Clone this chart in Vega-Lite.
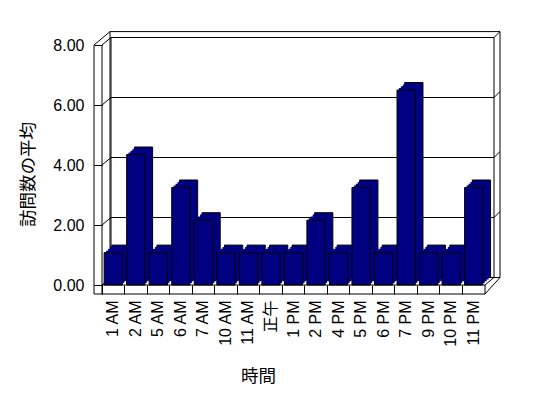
{
  "$schema": "https://vega.github.io/schema/vega-lite/v6.json",
  "width": 383,
  "height": 240,
  "autosize": "none",
  "padding": {"left": 102, "top": 45, "right": 63, "bottom": 113},
  "background": "white",
  "config": {
    "view": {"stroke": null},
    "rule": {"stroke": "black", "strokeWidth": 1},
    "axis": {
      "labelFont": "Liberation Sans, Noto Sans CJK JP",
      "labelFontSize": 16,
      "labelColor": "black",
      "domainColor": "black",
      "tickColor": "black",
      "titleFont": "Noto Sans CJK JP",
      "titleFontSize": 17.5,
      "titleFontWeight": "normal",
      "titleColor": "black",
      "grid": false
    }
  },
  "datasets": {
    "visits": [
      {"hour": "1 AM", "value": 1.08},
      {"hour": "2 AM", "value": 4.35},
      {"hour": "5 AM", "value": 1.08},
      {"hour": "6 AM", "value": 3.25},
      {"hour": "7 AM", "value": 2.16},
      {"hour": "10 AM", "value": 1.08},
      {"hour": "11 AM", "value": 1.08},
      {"hour": "正午", "value": 1.08},
      {"hour": "1 PM", "value": 1.08},
      {"hour": "2 PM", "value": 2.16},
      {"hour": "4 PM", "value": 1.08},
      {"hour": "5 PM", "value": 3.25},
      {"hour": "6 PM", "value": 1.08},
      {"hour": "7 PM", "value": 6.5},
      {"hour": "9 PM", "value": 1.08},
      {"hour": "10 PM", "value": 1.08},
      {"hour": "11 PM", "value": 3.25}
    ],
    "grid": [{"v": 2}, {"v": 4}, {"v": 6}],
    "levels": [{"v": 0}, {"v": 2}, {"v": 4}, {"v": 6}, {"v": 8}],
    "wall": [{"top": 8, "bottom": 0, "left": 0, "right": 1}]
  },
  "layer": [
    {
      "data": {"name": "wall"},
      "mark": {"type": "rect", "fill": "white", "stroke": "black", "strokeWidth": 1, "xOffset": 8, "x2Offset": 15, "yOffset": -13.4, "y2Offset": -7.5},
      "encoding": {
        "x": {"field": "left", "type": "quantitative", "scale": {"domain": [0, 1], "nice": false, "zero": false}, "axis": null},
        "x2": {"field": "right"},
        "y": {"field": "top", "type": "quantitative", "scale": {"domain": [0, 8], "nice": false}, "axis": null},
        "y2": {"field": "bottom"}
      }
    },
    {
      "data": {"name": "wall"},
      "mark": {"type": "rect", "fill": "white", "stroke": "black", "strokeWidth": 1, "xOffset": 9, "x2Offset": 9, "yOffset": -7.5, "y2Offset": -7.5},
      "encoding": {
        "x": {"field": "left", "type": "quantitative", "scale": {"domain": [0, 1], "nice": false, "zero": false}, "axis": null},
        "x2": {"field": "right"},
        "y": {"field": "top", "type": "quantitative", "scale": {"domain": [0, 8], "nice": false}, "axis": null},
        "y2": {"field": "bottom"}
      }
    },
    {
      "data": {"name": "grid"},
      "mark": {"type": "rule", "xOffset": 9, "x2Offset": 9, "yOffset": -7.5},
      "encoding": {
        "x": {"datum": 0, "type": "quantitative", "scale": {"domain": [0, 1], "nice": false, "zero": false}, "axis": null},
        "x2": {"datum": 1},
        "y": {"field": "v", "type": "quantitative", "scale": {"domain": [0, 8], "nice": false}, "axis": null}
      }
    },
    {
      "data": {"name": "grid"},
      "mark": {"type": "rule", "xOffset": 9, "x2Offset": 15, "yOffset": -7.5, "y2Offset": -13.4},
      "encoding": {
        "x": {"datum": 1, "type": "quantitative", "scale": {"domain": [0, 1], "nice": false, "zero": false}, "axis": null},
        "x2": {"datum": 1},
        "y": {"field": "v", "type": "quantitative", "scale": {"domain": [0, 8], "nice": false}, "axis": null},
        "y2": {"field": "v"}
      }
    },
    {
      "data": {"name": "levels"},
      "mark": {"type": "rule", "x2Offset": 9, "y2Offset": -7.5},
      "encoding": {
        "x": {"datum": 0, "type": "quantitative", "scale": {"domain": [0, 1], "nice": false, "zero": false}, "axis": null},
        "x2": {"datum": 0},
        "y": {"field": "v", "type": "quantitative", "scale": {"domain": [0, 8], "nice": false}, "axis": null},
        "y2": {"field": "v"}
      }
    },
    {
      "data": {"name": "wall"},
      "mark": {"type": "rule", "xOffset": -8, "x2Offset": 8, "y2Offset": -13.4},
      "encoding": {
        "x": {"datum": 0, "type": "quantitative", "scale": {"domain": [0, 1], "nice": false, "zero": false}, "axis": null},
        "x2": {"datum": 0},
        "y": {"datum": 8, "type": "quantitative", "scale": {"domain": [0, 8], "nice": false}, "axis": null},
        "y2": {"datum": 8}
      }
    },
    {
      "data": {"name": "wall"},
      "mark": {"type": "rule", "xOffset": 9, "x2Offset": 15, "yOffset": -7.5, "y2Offset": -13.4},
      "encoding": {
        "x": {"datum": 1, "type": "quantitative", "scale": {"domain": [0, 1], "nice": false, "zero": false}, "axis": null},
        "x2": {"datum": 1},
        "y": {"datum": 8, "type": "quantitative", "scale": {"domain": [0, 8], "nice": false}, "axis": null},
        "y2": {"datum": 8}
      }
    },
    {
      "data": {"name": "wall"},
      "mark": {"type": "rule", "yOffset": 9, "x2Offset": 15, "y2Offset": -7.5},
      "encoding": {
        "x": {"datum": 1, "type": "quantitative", "scale": {"domain": [0, 1], "nice": false, "zero": false}, "axis": null},
        "x2": {"datum": 1},
        "y": {"datum": 0, "type": "quantitative", "scale": {"domain": [0, 8], "nice": false}, "axis": null},
        "y2": {"datum": 0}
      }
    },
    {
      "data": {"name": "wall"},
      "mark": {"type": "rule", "x2Offset": 9, "y2Offset": -7.5},
      "encoding": {
        "x": {"datum": 1, "type": "quantitative", "scale": {"domain": [0, 1], "nice": false, "zero": false}, "axis": null},
        "x2": {"datum": 1},
        "y": {"datum": 0, "type": "quantitative", "scale": {"domain": [0, 8], "nice": false}, "axis": null},
        "y2": {"datum": 0}
      }
    },
    {
      "data": {"name": "visits"},
      "mark": {"type": "bar", "fill": "#000080", "stroke": "black", "strokeWidth": 1, "xOffset": 7.7, "x2Offset": 7.7, "yOffset": -7.5, "y2Offset": -7.5},
      "encoding": {
        "x": {"field": "hour", "type": "nominal", "sort": null, "scale": {"paddingInner": 0.19, "paddingOuter": 0.095}, "axis": null},
        "y": {"field": "value", "type": "quantitative", "scale": {"domain": [0, 8], "nice": false}, "axis": null}
      }
    },
    {
      "data": {"name": "visits"},
      "mark": {"type": "bar", "fill": "#000080", "strokeWidth": 0, "xOffset": 5.8, "x2Offset": 5.8, "yOffset": -5.6, "y2Offset": -5.6},
      "encoding": {
        "x": {"field": "hour", "type": "nominal", "sort": null, "scale": {"paddingInner": 0.19, "paddingOuter": 0.095}, "axis": null},
        "y": {"field": "value", "type": "quantitative", "scale": {"domain": [0, 8], "nice": false}, "axis": null}
      }
    },
    {
      "data": {"name": "visits"},
      "mark": {"type": "bar", "fill": "#000080", "strokeWidth": 0, "xOffset": 3.85, "x2Offset": 3.85, "yOffset": -3.75, "y2Offset": -3.75},
      "encoding": {
        "x": {"field": "hour", "type": "nominal", "sort": null, "scale": {"paddingInner": 0.19, "paddingOuter": 0.095}, "axis": null},
        "y": {"field": "value", "type": "quantitative", "scale": {"domain": [0, 8], "nice": false}, "axis": null}
      }
    },
    {
      "data": {"name": "visits"},
      "mark": {"type": "bar", "fill": "#000080", "strokeWidth": 0, "xOffset": 1.9, "x2Offset": 1.9, "yOffset": -1.9, "y2Offset": -1.9},
      "encoding": {
        "x": {"field": "hour", "type": "nominal", "sort": null, "scale": {"paddingInner": 0.19, "paddingOuter": 0.095}, "axis": null},
        "y": {"field": "value", "type": "quantitative", "scale": {"domain": [0, 8], "nice": false}, "axis": null}
      }
    },
    {
      "data": {"name": "visits"},
      "mark": {"type": "bar", "fill": "#000080", "stroke": "black", "strokeWidth": 1},
      "encoding": {
        "x": {"field": "hour", "type": "nominal", "sort": null,
          "scale": {"paddingInner": 0.19, "paddingOuter": 0.095},
          "axis": {"orient": "bottom", "title": "時間", "labelAngle": -90, "labelPadding": 6, "tickSize": 9, "bandPosition": -0.117, "domain": false, "titleX": 156, "titleY": 82, "titleBaseline": "top"}},
        "y": {"field": "value", "type": "quantitative", "scale": {"domain": [0, 8], "nice": false},
          "axis": {"orient": "left", "title": "訪問数の平均", "values": [0, 2, 4, 6, 8], "format": ".2f", "tickSize": 8, "labelPadding": 10, "titleX": -65, "titleY": 129, "domain": false}}
      }
    },
    {
      "data": {"name": "wall"},
      "mark": {"type": "rule", "y2Offset": 9},
      "encoding": {
        "x": {"datum": 0, "type": "quantitative", "scale": {"domain": [0, 1], "nice": false, "zero": false}, "axis": null},
        "y": {"datum": 8, "type": "quantitative", "scale": {"domain": [0, 8], "nice": false}, "axis": null},
        "y2": {"datum": 0}
      }
    },
    {
      "data": {"name": "wall"},
      "mark": {"type": "rule", "xOffset": -8, "y2Offset": 9},
      "encoding": {
        "x": {"datum": 0, "type": "quantitative", "scale": {"domain": [0, 1], "nice": false, "zero": false}, "axis": null},
        "y": {"datum": 8, "type": "quantitative", "scale": {"domain": [0, 8], "nice": false}, "axis": null},
        "y2": {"datum": 0}
      }
    },
    {
      "data": {"name": "wall"},
      "mark": {"type": "rule"},
      "encoding": {
        "x": {"datum": 0, "type": "quantitative", "scale": {"domain": [0, 1], "nice": false, "zero": false}, "axis": null},
        "x2": {"datum": 1},
        "y": {"datum": 0, "type": "quantitative", "scale": {"domain": [0, 8], "nice": false}, "axis": null}
      }
    },
    {
      "data": {"name": "wall"},
      "mark": {"type": "rule", "xOffset": -8, "yOffset": 9},
      "encoding": {
        "x": {"datum": 0, "type": "quantitative", "scale": {"domain": [0, 1], "nice": false, "zero": false}, "axis": null},
        "x2": {"datum": 1},
        "y": {"datum": 0, "type": "quantitative", "scale": {"domain": [0, 8], "nice": false}, "axis": null}
      }
    },
    {
      "data": {"name": "wall"},
      "mark": {"type": "rule", "y2Offset": 9},
      "encoding": {
        "x": {"datum": 1, "type": "quantitative", "scale": {"domain": [0, 1], "nice": false, "zero": false}, "axis": null},
        "y": {"datum": 0, "type": "quantitative", "scale": {"domain": [0, 8], "nice": false}, "axis": null},
        "y2": {"datum": 0}
      }
    }
  ],
  "resolve": {"scale": {"x": "independent"}, "axis": {"x": "independent", "y": "independent"}}
}
